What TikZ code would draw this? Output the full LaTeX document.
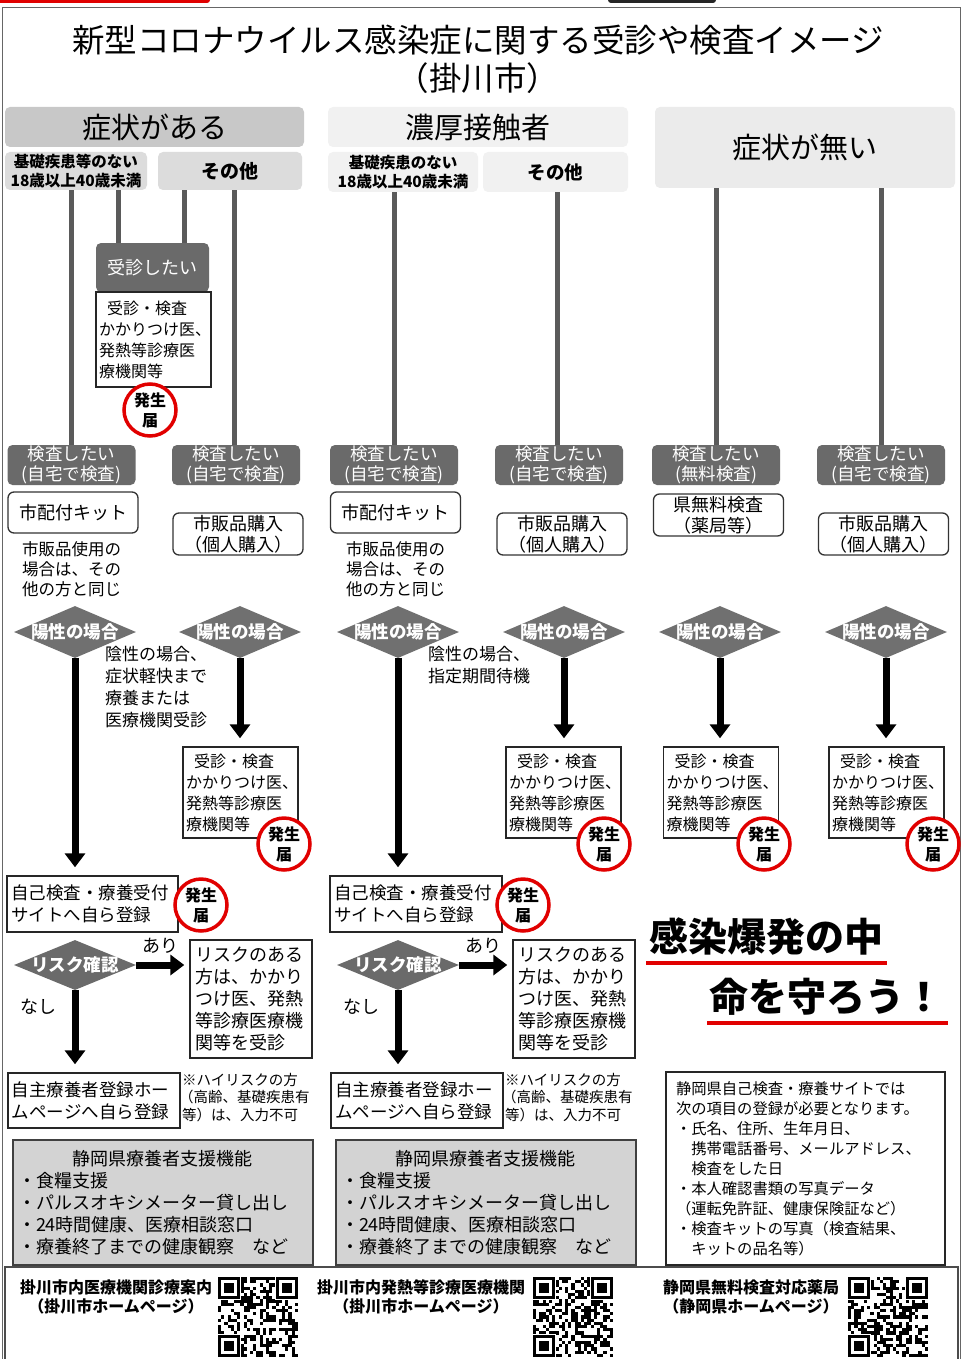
\documentclass[tikz,border=0pt]{standalone}
\usepackage{fontspec}
\setmainfont{Noto Sans CJK JP}
\usetikzlibrary{shapes.geometric,arrows.meta,calc}
\newcommand\myfs[2]{\fontsize{#1}{#2}\selectfont}
\definecolor{hdrA}{HTML}{C8C8C8}
\definecolor{hdrAs}{HTML}{DCDCDC}
\definecolor{hdrB}{HTML}{F1F1F1}
\definecolor{hdrC}{HTML}{EBEBEB}
\definecolor{dk}{HTML}{6A6A6A}
\definecolor{dia}{HTML}{707070}
\definecolor{lnc}{HTML}{5A5A5A}
\definecolor{sup}{HTML}{D3D3D3}
\definecolor{rc}{HTML}{E10000}
\newcommand\myfinder[2]{%
  \fill[white] (#1-1,#2-1) rectangle ++(24.4,24.4);
  \fill[black] (#1,#2) rectangle ++(22.4,22.4);
  \fill[white] (#1+3.2,#2+3.2) rectangle ++(16,16);
  \fill[black] (#1+6.4,#2+6.4) rectangle ++(9.6,9.6);}
\newcommand\myqr[3]{%
  \pgfmathsetseed{#3}%
  \foreach \i in {0,...,24}{\foreach \j in {0,...,24}{%
    \pgfmathtruncatemacro\qb{rnd>0.52?1:0}%
    \ifnum\qb=1 \fill (#1+\i*3.2,#2+\j*3.2) rectangle ++(3.2,3.2);\fi}}%
  \myfinder{#1}{#2}\myfinder{#1+57.6}{#2}\myfinder{#1}{#2+57.6}}
\tikzset{
  hdrbox/.style={rounded corners=5pt, inner sep=0pt, align=center},
  dkbox/.style={rounded corners=5pt, fill=dk, text=white, inner sep=0pt, align=center, font=\myfs{17.5}{20}},
  kitbox/.style={draw=black!80, line width=1.3pt, rounded corners=6pt, inner sep=0pt, align=center, font=\myfs{18}{21}, minimum width=130pt},
  sqbox/.style={draw=black!85, line width=1.4pt, inner sep=0pt, align=left},
  diam/.style={diamond, fill=dia, inner sep=0pt, minimum width=122pt, minimum height=52pt},
  diatxt/.style={text=white, font=\bfseries\myfs{17.5}{20}},
  vln/.style={line width=5pt, draw=lnc},
  bigarr/.style={line width=7pt, -{Triangle[width=20pt,length=14pt]}, shorten >=8pt},
  hassei/.style={circle, draw=rc, line width=3.5pt, fill=white, minimum size=52pt, inner sep=0pt, align=center, font=\bfseries\myfs{16}{20}},
  plain/.style={inner sep=0pt, align=left},
  clinic/.style={sqbox, minimum width=115pt, minimum height=91pt, text width=109pt, font=\myfs{16}{21}}
}
\begin{document}
\begin{tikzpicture}[x=1pt,y=-1pt]
\useasboundingbox (0,0) rectangle (962,1359);
\fill[white] (0,0) rectangle (962,1359);
% edge artifacts
\fill[rc, rounded corners=3pt] (-5,-6) rectangle (210,3);
\fill[black!85, rounded corners=3pt] (608,-6) rectangle (716,3);
\draw[black!60, line width=1pt] (2,1359) -- (2,8) -- (960,8) -- (960,1359);
% title
\node[font=\myfs{32.5}{38}, align=center] (title) at (478,59) {新型コロナウイルス感染症に関する受診や検査イメージ\\（掛川市）};
% headers
\node[hdrbox, fill=hdrA, minimum width=299pt, minimum height=40pt, font=\myfs{29}{30}] (h1) at (154.5,127) {症状がある};
\node[hdrbox, fill=hdrAs, minimum width=142pt, minimum height=38pt, font=\bfseries\myfs{15.5}{19}] (h1a) at (76,171) {基礎疾患等のない\\18歳以上40歳未満};
\node[hdrbox, fill=hdrAs, minimum width=144pt, minimum height=38pt, font=\bfseries\myfs{19}{20}] (h1b) at (230,171) {その他};
\node[hdrbox, fill=hdrB, minimum width=300pt, minimum height=40pt, font=\myfs{29}{30}] (h2) at (478,127) {濃厚接触者};
\node[hdrbox, fill=hdrB, minimum width=150pt, minimum height=40pt, font=\bfseries\myfs{15.5}{19}] (h2a) at (403,172) {基礎疾患のない\\18歳以上40歳未満};
\node[hdrbox, fill=hdrB, minimum width=145pt, minimum height=40pt, font=\bfseries\myfs{18.5}{20}] (h2b) at (555.5,172) {その他};
\node[hdrbox, fill=hdrC, minimum width=300pt, minimum height=81pt, font=\myfs{29}{30}] (h3) at (805,147.5) {症状が無い};
% consult branch
\node[dkbox, minimum width=113pt, minimum height=49pt, font=\myfs{18}{20}] (j1) at (152.5,267.5) {受診したい};
\node[clinic, minimum height=95pt] (jb) at (153.5,339.5) {\hspace*{8pt}受診・検査\\かかりつけ医、\\発熱等診療医\\療機関等};
\node[hassei] (c0) at (150,410) {発生\\届};
% test boxes
\foreach \n/\x/\t in {k1/71.5/自宅で検査, k2/236/自宅で検査, k3/394/自宅で検査, k4/559/自宅で検査, k5/716/無料検査, k6/881/自宅で検査}
  \node[dkbox, minimum width=128pt, minimum height=40pt] (\n) at (\x,465) {検査したい\\(\t)};
% vertical lines
\draw[vln] (k1.north) -- (k1.north |- h1a.south);
\draw[vln] ([xshift=-34pt]j1.north) -- ([xshift=-34pt]j1.north |- h1a.south);
\draw[vln] ([xshift=31.5pt]j1.north) -- ([xshift=31.5pt]j1.north |- h1b.south);
\draw[vln] ([xshift=-2pt]k2.north) -- ([xshift=-2pt]k2.north |- h1b.south);
\draw[vln] (k3.north) -- (k3.north |- h2a.south);
\draw[vln] ([xshift=-2pt]k4.north) -- ([xshift=-2pt]k4.north |- h2b.south);
\draw[vln] (k5.north) -- (k5.north |- h3.south);
\draw[vln] (k6.north) -- (k6.north |- h3.south);
% kit boxes
\node[kitbox, minimum height=41pt] (t1) at (73,512.5) {市配付キット};
\node[kitbox, minimum height=42pt] (t2) at (238,534) {市販品購入\\（個人購入）};
\node[kitbox, minimum height=41pt] (t3) at (395.5,512.5) {市配付キット};
\node[kitbox, minimum height=42pt] (t4) at (562,534) {市販品購入\\（個人購入）};
\node[kitbox, minimum height=42pt] (t5) at (718.5,515) {県無料検査\\（薬局等）};
\node[kitbox, minimum height=42pt] (t6) at (883.5,534) {市販品購入\\（個人購入）};
\node[plain, anchor=north west, font=\myfs{16.5}{20}] (n1) at (22,541) {市販品使用の\\場合は、その\\他の方と同じ};
\node[plain, anchor=north west, font=\myfs{16.5}{20}] (n3) at (346,541) {市販品使用の\\場合は、その\\他の方と同じ};
% diamonds
\foreach \n/\x in {p1/75, p2/240, p3/398, p4/564, p5/720, p6/886}{
  \node[diam] (\n) at (\x,632) {};
  \node[diatxt] at (\n) {陽性の場合};}
\node[plain, anchor=north west, font=\myfs{17}{22}] (neg1) at (105,646) {陰性の場合、\\症状軽快まで\\療養または\\医療機関受診};
\node[plain, anchor=north west, font=\myfs{17}{22}] (neg3) at (428,646) {陰性の場合、\\指定期間待機};
% clinic boxes
\node[clinic] (r2) at (240.5,792.5) {\hspace*{8pt}受診・検査\\かかりつけ医、\\発熱等診療医\\療機関等};
\node[clinic] (r4) at (563.5,792.5) {\hspace*{8pt}受診・検査\\かかりつけ医、\\発熱等診療医\\療機関等};
\node[clinic] (r5) at (721,792.5) {\hspace*{8pt}受診・検査\\かかりつけ医、\\発熱等診療医\\療機関等};
\node[clinic] (r6) at (886.5,792.5) {\hspace*{8pt}受診・検査\\かかりつけ医、\\発熱等診療医\\療機関等};
\node[hassei] (c2) at (284,844) {発生\\届};
\node[hassei] (c4) at (604,844) {発生\\届};
\node[hassei] (c5) at (764,844) {発生\\届};
\node[hassei] (c6) at (933,844) {発生\\届};
% self registration
\node[sqbox, minimum width=171pt, minimum height=56pt, text width=163pt, font=\myfs{17.5}{22}] (s1) at (92.5,904) {自己検査・療養受付\\サイトへ自ら登録};
\node[sqbox, minimum width=172pt, minimum height=56pt, text width=164pt, font=\myfs{17.5}{22}] (s3) at (416,904) {自己検査・療養受付\\サイトへ自ら登録};
\node[hassei] (c7) at (201,905) {発生\\届};
\node[hassei] (c8) at (523,905) {発生\\届};
% big arrows
\draw[bigarr] (p1.south) -- (p1.south |- s1.north);
\draw[bigarr] (p3.south) -- (p3.south |- s3.north);
\draw[bigarr] (p2.south) -- (p2.south |- r2.north);
\draw[bigarr] (p4.south) -- (p4.south |- r4.north);
\draw[bigarr] (p5.south) -- (p5.south |- r5.north);
\draw[bigarr] (p6.south) -- (p6.south |- r6.north);
% risk check
\node[diam, fill=dk, minimum height=50pt] (q1) at (75,965) {};
\node[diatxt] at (q1) {リスク確認};
\node[diam, fill=dk, minimum height=50pt] (q3) at (398,965) {};
\node[diatxt] at (q3) {リスク確認};
\node[sqbox, minimum width=122pt, minimum height=118pt, text width=112pt, font=\myfs{18}{22}] (rb1) at (251,999) {リスクのある\\方は、かかり\\つけ医、発熱\\等診療医療機\\関等を受診};
\node[sqbox, minimum width=122pt, minimum height=118pt, text width=112pt, font=\myfs{18}{22}] (rb3) at (574,999) {リスクのある\\方は、かかり\\つけ医、発熱\\等診療医療機\\関等を受診};
\node[sqbox, minimum width=172pt, minimum height=55pt, text width=164pt, font=\myfs{17.5}{22}] (hb1) at (94,1100.5) {自主療養者登録ホー\\ムページへ自ら登録};
\node[sqbox, minimum width=172pt, minimum height=55pt, text width=164pt, font=\myfs{17.5}{22}] (hb3) at (417,1100.5) {自主療養者登録ホー\\ムページへ自ら登録};
\draw[bigarr, shorten >=5pt] (q1.east) -- (q1.east -| rb1.west);
\draw[bigarr] (q1.south) -- (q1.south |- hb1.north);
\draw[bigarr, shorten >=5pt] (q3.east) -- (q3.east -| rb3.west);
\draw[bigarr] (q3.south) -- (q3.south |- hb3.north);
\node[font=\myfs{18}{20}] (a1) at (160,946) {あり};
\node[font=\myfs{18}{20}] (a3) at (483,946) {あり};
\node[font=\myfs{18}{20}] (b1) at (38,1007) {なし};
\node[font=\myfs{18}{20}] (b3) at (361,1007) {なし};
\node[plain, anchor=north west, font=\myfs{14.5}{17.5}] (hn1) at (182,1073) {※ハイリスクの方\\\hspace*{-3pt}（高齢、基礎疾患有\\等）は、入力不可};
\node[plain, anchor=north west, font=\myfs{14.5}{17.5}] (hn3) at (505,1073) {※ハイリスクの方\\\hspace*{-3pt}（高齢、基礎疾患有\\等）は、入力不可};
% support boxes
\node[sqbox, fill=sup, draw=black!75, minimum width=300pt, minimum height=125pt, text width=290pt, font=\myfs{18}{22}] (sp1) at (163,1202.5) {\hspace*{54pt}静岡県療養者支援機能\\・食糧支援\\・パルスオキシメーター貸し出し\\・24時間健康、医療相談窓口\\・療養終了までの健康観察　など};
\node[sqbox, fill=sup, draw=black!75, minimum width=300pt, minimum height=125pt, text width=290pt, font=\myfs{18}{22}] (sp3) at (486,1202.5) {\hspace*{54pt}静岡県療養者支援機能\\・食糧支援\\・パルスオキシメーター貸し出し\\・24時間健康、医療相談窓口\\・療養終了までの健康観察　など};
% slogan
\node[font=\bfseries\myfs{39}{42}, inner sep=0pt] (sl1) at (766,937) {感染爆発の中};
\node[font=\bfseries\myfs{39}{42}, inner sep=0pt] (sl2) at (826,997) {命を守ろう！};
\coordinate (u1s) at (646,963); \coordinate (u1e) at (887,963);
\coordinate (u2s) at (707,1023); \coordinate (u2e) at (948,1023);
\draw[rc, line width=4pt] (u1s) -- (u1e);
\draw[rc, line width=4pt] (u2s) -- (u2e);
% info box
\node[sqbox, minimum width=279pt, minimum height=193pt, text width=259pt, inner xsep=10pt, font=\myfs{15.3}{20}] (info) at (805.5,1168.5) {静岡県自己検査・療養サイトでは\\次の項目の登録が必要となります。\\・氏名、住所、生年月日、\\\hspace*{15.3pt}携帯電話番号、メールアドレス、\\\hspace*{15.3pt}検査をした日\\・本人確認書類の写真データ\\（運転免許証、健康保険証など）\\・検査キットの写真（検査結果、\\\hspace*{15.3pt}キットの品名等）};
% bottom links
\draw[black!70, line width=1.6pt] (5,1362) -- (5,1267) -- (958,1267) -- (958,1362);
\node[align=center, font=\bfseries\myfs{16}{19}] (l1) at (116,1297) {掛川市内医療機関診療案内\\（掛川市ホームページ）};
\node[align=center, font=\bfseries\myfs{16}{19}] (l2) at (421,1297) {掛川市内発熱等診療医療機関\\（掛川市ホームページ）};
\node[align=center, font=\bfseries\myfs{16}{19}] (l3) at (751,1297) {静岡県無料検査対応薬局\\（静岡県ホームページ）};
\myqr{218}{1277}{11}
\myqr{533}{1277}{23}
\myqr{848}{1277}{37}
\end{tikzpicture}
\end{document}
